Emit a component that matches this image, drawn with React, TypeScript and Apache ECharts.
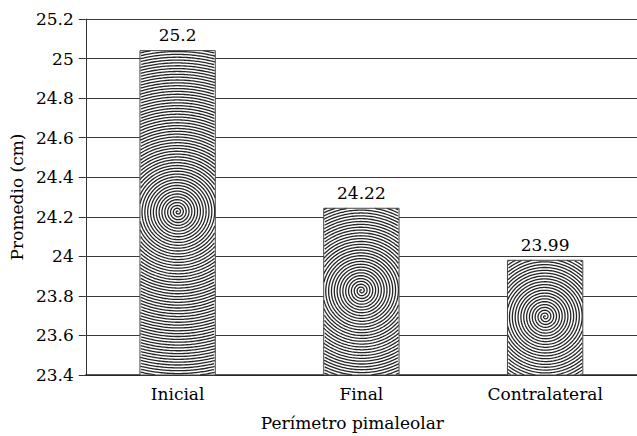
import React, { useEffect, useRef } from "react";
import * as echarts from "echarts";

const categories = ["Inicial", "Final", "Contralateral"];
const barValues = [25.04, 24.243, 23.98];
const barLabels = ["25.2", "24.22", "23.99"];
const yMin = 23.4;
const yMax = 25.2;
const yInterval = 0.2;
const xTitle = "Perímetro pimaleolar";
const yTitle = "Promedio (cm)";

const FONT = "DejaVu Serif";
const FS = 17;

function spiralSegments(cx: number, cy: number, x0: number, y0: number, x1: number, y1: number) {
  const pitch = 2.85;
  const b = pitch / (2 * Math.PI);
  const rMax = Math.max(
    Math.hypot(cx - x0, cy - y0),
    Math.hypot(cx - x1, cy - y0),
    Math.hypot(cx - x0, cy - y1),
    Math.hypot(cx - x1, cy - y1)
  ) + pitch;
  const thetaMax = rMax / b;
  const segs: number[][][] = [];
  let cur: number[][] = [];
  let theta = 0.5;
  while (theta <= thetaMax) {
    const r = b * theta;
    const px = cx + r * Math.cos(-theta);
    const py = cy + r * Math.sin(-theta);
    const inside = px >= x0 && px <= x1 && py >= y0 && py <= y1;
    if (inside) {
      cur.push([px, py]);
    } else if (cur.length) {
      if (cur.length > 1) segs.push(cur);
      cur = [];
    }
    theta += Math.min(0.3, 1.5 / Math.max(r, 1));
  }
  if (cur.length > 1) segs.push(cur);
  return segs;
}

export default function App() {
  const ref = useRef<HTMLDivElement>(null);
  useEffect(() => {
    document.body.style.margin = "0";
    if (!ref.current) return;
    const chart = echarts.init(ref.current, null, { renderer: "svg" });
    const option: any = {
      animation: false,
      backgroundColor: "#ffffff",
      textStyle: { fontFamily: FONT },
      grid: { left: 83, width: 560, top: 19, height: 357, containLabel: false },
      xAxis: {
        type: "category",
        data: categories,
        name: xTitle,
        nameLocation: "middle",
        nameGap: 39,
        nameTextStyle: { fontFamily: FONT, fontSize: FS, color: "#000", padding: [0, 18, 0, 0] },
        axisLine: { show: true, lineStyle: { color: "#222", width: 1.5 } },
        axisTick: { show: false },
        axisLabel: { fontFamily: FONT, fontSize: FS, color: "#000", margin: 10 },
        splitLine: { show: false },
      },
      yAxis: {
        type: "value",
        min: yMin,
        max: yMax,
        interval: yInterval,
        name: yTitle,
        nameLocation: "middle",
        nameGap: 57,
        nameRotate: 90,
        nameTextStyle: { fontFamily: FONT, fontSize: FS, color: "#000" },
        axisLine: { show: true, lineStyle: { color: "#333", width: 1 } },
        axisTick: { show: true, length: 7, inside: false, lineStyle: { color: "#333" } },
        axisLabel: {
          fontFamily: FONT,
          fontSize: FS,
          color: "#000",
          margin: 12,
          formatter: (v: number) => String(Math.round(v * 10) / 10),
        },
        splitLine: { show: true, lineStyle: { color: "#3a3a3a", width: 1 } },
      },
      series: [
        {
          type: "custom",
          clip: false,
          data: barValues.map((v, i) => [i, v]),
          encode: { x: 0, y: 1 },
          renderItem: (params: any, api: any) => {
            const i = api.value(0);
            const v = api.value(1);
            const top = api.coord([i, v]);
            const base = api.coord([i, yMin]);
            const w = api.size([1, 0])[0] * 0.41;
            const x0 = top[0] - w / 2;
            const x1 = x0 + w;
            const y0 = top[1];
            const y1 = base[1];
            const cx = top[0];
            const cy = (y0 + y1) / 2 - 1;
            const segs = spiralSegments(cx, cy, x0, y0, x1, y1);
            const children: any[] = [
              { type: "rect", shape: { x: x0, y: y0, width: w, height: y1 - y0 }, style: { fill: "#fff", stroke: null } },
            ];
            segs.forEach((pts) => {
              children.push({
                type: "polyline",
                shape: { points: pts },
                style: { stroke: "#262626", lineWidth: 1.3, fill: null },
                silent: true,
              });
            });
            children.push({
              type: "rect",
              shape: { x: x0, y: y0, width: w, height: y1 - y0 },
              style: { fill: null, stroke: "#444", lineWidth: 1 },
            });
            children.push({
              type: "text",
              x: cx,
              y: y0 - 7,
              style: {
                text: barLabels[i],
                fontFamily: FONT,
                fontSize: FS,
                fill: "#000",
                align: "center",
                verticalAlign: "bottom",
              },
            });
            return { type: "group", children };
          },
        },
      ],
    };
    chart.setOption(option);
    return () => chart.dispose();
  }, []);
  return <div ref={ref} style={{ width: 637, height: 436 }} />;
}
